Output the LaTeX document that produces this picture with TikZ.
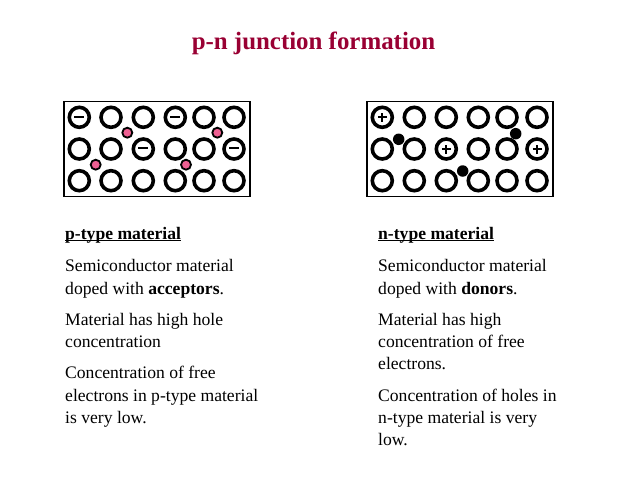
\documentclass[tikz,border=0pt]{standalone}
\usepackage{fontspec}
\setmainfont{Liberation Serif}
\definecolor{titlered}{HTML}{990033}
\definecolor{dotpink}{HTML}{EE5F92}
\tikzset{
  x=1pt,y=-1pt,
  atom/.style={circle,draw=black,line width=3.6pt,minimum size=20pt,inner sep=0pt,fill=white},
  panel/.style={draw=black,line width=1.6pt},
  acceptor/.style={circle,draw=black,line width=1.8pt,fill=dotpink,minimum size=10pt,inner sep=0pt},
  donor/.style={circle,fill=black,minimum size=11.5pt,inner sep=0pt},
  body/.style={anchor=base west,inner sep=0pt,font=\fontsize{17.6}{20}\selectfont},
  titletext/.style={anchor=base,inner sep=0pt,text=titlered,font=\bfseries\fontsize{24.9}{28}\selectfont},
  minus/.style={line width=1.8pt},
  charge/.style={inner sep=0pt},
  headrule/.style={draw=black,line width=1.2pt}
}
\newcommand{\minussign}{\tikz[baseline=-0.5ex]\draw[minus,x=1pt,y=1pt] (-5,0)--(5,0);}
\newcommand{\plussign}{\tikz[baseline=-0.5ex]\draw[minus,x=1pt,y=1pt] (-4.5,0)--(4.5,0) (0,-4.5)--(0,4.5);}
\begin{document}
\begin{tikzpicture}
\useasboundingbox (0,0) rectangle (638,479);
\node[titletext] (title) at (313.5,49) {p-n junction formation};

\draw[panel] (64,101.5) rectangle (250,196.5);
\draw[panel] (367,101.5) rectangle (553,196.5);

% left atoms
\foreach \n/\x in {a/79.3,b/111,c/143.3,d/175.3,e/204,f/234}{
  \foreach \m/\y in {1/117.3,2/149,3/180.7}{
    \node[atom] (L\n\m) at (\x,\y) {};
  }
}
\foreach \p in {La1,Ld1,Lc2,Lf2}{ \node[charge] at (\p) {\minussign}; }
\node[acceptor] (p1) at (127.3,132.7) {};
\node[acceptor] (p2) at (217.3,132.7) {};
\node[acceptor] (p3) at (95.7,164.7) {};
\node[acceptor] (p4) at (186,164.7) {};

% right atoms
\foreach \n/\x in {a/382.3,b/414.3,c/446.3,d/478.3,e/507,f/537}{
  \foreach \m/\y in {1/117.3,2/149,3/180.7}{
    \node[atom] (R\n\m) at (\x,\y) {};
  }
}
\foreach \p in {Ra1,Rc2,Rf2}{ \node[charge] at (\p) {\plussign}; }
\node[donor] (n1) at (398.7,139.3) {};
\node[donor] (n2) at (515.7,133.7) {};
\node[donor] (n3) at (462.7,171) {};

% left text
\node[body] (l1) at (65,239) {\textbf{p-type material}};
\draw[headrule] ([yshift=-1.2pt]l1.base west) -- ([yshift=-1.2pt]l1.base east);
\node[body] (l2) at (65,271) {Semiconductor material};
\node[body] (l3) at (65,294) {doped with \textbf{acceptors}.};
\node[body] (l4) at (65,325) {Material has high hole};
\node[body] (l5) at (65,347) {concentration};
\node[body] (l6) at (65,378) {Concentration of free};
\node[body] (l7) at (65,401) {electrons in p-type material};
\node[body] (l8) at (65,423) {is very low.};

% right text
\node[body] (r1) at (378,239) {\textbf{n-type material}};
\draw[headrule] ([yshift=-1.2pt]r1.base west) -- ([yshift=-1.2pt]r1.base east);
\node[body] (r2) at (378,271) {Semiconductor material};
\node[body] (r3) at (378,294) {doped with \textbf{donors}.};
\node[body] (r4) at (378,325) {Material has high};
\node[body] (r5) at (378,347) {concentration of free};
\node[body] (r6) at (378,369) {electrons.};
\node[body] (r7) at (378,401) {Concentration of holes in};
\node[body] (r8) at (378,423) {n-type material is very};
\node[body] (r9) at (378,445) {low.};
\end{tikzpicture}
\end{document}
